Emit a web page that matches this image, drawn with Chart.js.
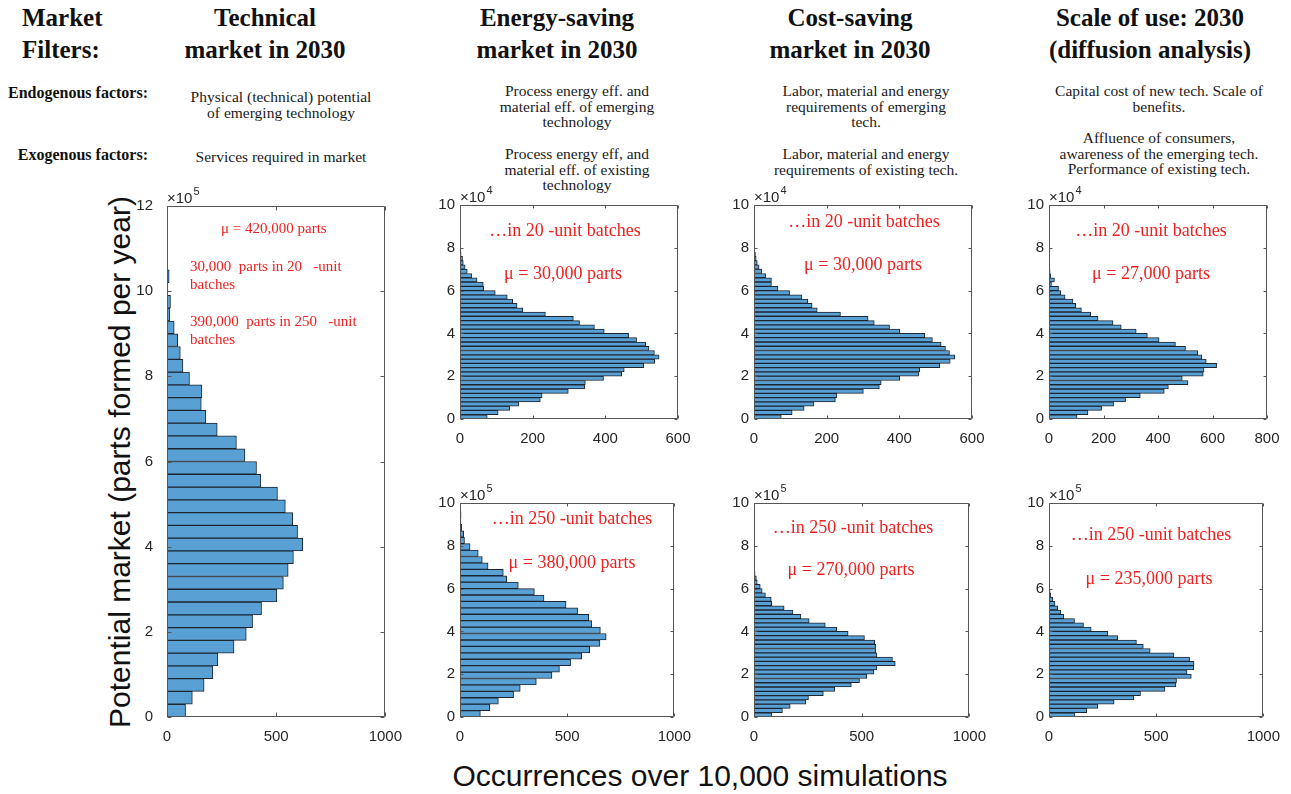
<!DOCTYPE html>
<html>
<head>
<meta charset="utf-8">
<title>Market filters</title>
<script src="https://cdn.jsdelivr.net/npm/chart.js@4.4.1/dist/chart.umd.min.js"></script>
<style>
  body { margin: 0; width: 1291px; height: 794px; position: relative; overflow: hidden; background: #fff;
         font-family: "Liberation Serif", "Times New Roman", serif; }
  .t { position: absolute; white-space: pre; }
  .hd { font-weight: bold; font-size: 25px; line-height: 32px; color: #111; text-align: center; width: 320px; }
  .lab { font-weight: bold; font-size: 16px; line-height: 18px; color: #111; text-align: right; left: 0; width: 148px; }
  .desc { font-size: 15.5px; line-height: 15.5px; color: #1a1a1a; text-align: center; width: 320px; }
  .red { color: #f02020; }
  .r1 { font-size: 15px; line-height: 17.5px; }
  .r2 { font-size: 18px; line-height: 20px; text-align: center; width: 240px; }
  .ax { font-family: "Liberation Sans", Arial, sans-serif; color: #111; text-align: center; }
  canvas { position: absolute; }
</style>
</head>
<body>

<div class="t hd" style="left:22px;top:2px;width:120px;text-align:left">Market<br>Filters:</div>
<div class="t hd" style="left:105px;top:2px">Technical<br>market in 2030</div>
<div class="t hd" style="left:397px;top:2px">Energy-saving<br>market in 2030</div>
<div class="t hd" style="left:690px;top:2px">Cost-saving<br>market in 2030</div>
<div class="t hd" style="left:990px;top:2px">Scale of use: 2030<br>(diffusion analysis)</div>

<div class="t lab" style="top:84px">Endogenous factors:</div>
<div class="t lab" style="top:146px">Exogenous factors:</div>

<div class="t desc" style="left:121px;top:89px">Physical (technical) potential<br>of emerging technology</div>
<div class="t desc" style="left:121px;top:149px">Services required in market</div>
<div class="t desc" style="left:417px;top:83px">Process energy eff. and<br>material eff. of emerging<br>technology</div>
<div class="t desc" style="left:417px;top:146px">Process energy eff, and<br>material eff. of existing<br>technology</div>
<div class="t desc" style="left:706px;top:83px">Labor, material and energy<br>requirements of emerging<br>tech.</div>
<div class="t desc" style="left:706px;top:146px">Labor, material and energy<br>requirements of existing tech.</div>
<div class="t desc" style="left:999px;top:83px">Capital cost of new tech. Scale of<br>benefits.</div>
<div class="t desc" style="left:999px;top:130px">Affluence of consumers,<br>awareness of the emerging tech.<br>Performance of existing tech.</div>

<div class="t ax" style="left:-180px;top:442px;width:600px;height:40px;line-height:40px;font-size:30px;transform:rotate(-90deg)">Potential market (parts formed per year)</div>
<div class="t ax" style="left:400px;top:758px;width:600px;line-height:36px;font-size:30px">Occurrences over 10,000 simulations</div>

<script>
// bin counts, lowest bin first
const techCounts = [85, 116, 170, 210, 233, 307, 363, 392, 433, 503, 533, 555, 579, 622, 598, 576, 542, 506,
  430, 410, 357, 318, 230, 178, 157, 160, 103, 73, 61, 49, 33, 13, 16, 4, 10, 3];
const energy20Counts = [75, 105, 137, 162, 221, 226, 298, 343, 345, 395, 445, 452, 506, 536, 548, 535, 520, 511,
  486, 464, 397, 370, 329, 312, 235, 173, 157, 145, 130, 97, 65, 64, 47, 32, 20, 14, 9, 7, 3, 1];
const cost20Counts = [75, 105, 138, 165, 224, 228, 301, 345, 350, 401, 453, 456, 511, 540, 553, 538, 527, 515,
  491, 470, 401, 373, 331, 314, 238, 174, 160, 148, 132, 98, 66, 48, 48, 32, 21, 14, 9, 6, 4, 2];
const scale20Counts = [103, 143, 193, 237, 281, 335, 423, 438, 510, 489, 566, 569, 615, 577, 561, 546, 501, 464,
  404, 361, 320, 265, 235, 180, 153, 119, 98, 88, 59, 43, 35, 9, 20, 6, 4, 2, 1, 0, 0, 3];
const energy250Counts = [95, 139, 179, 250, 281, 356, 429, 464, 516, 568, 605, 653, 682, 655, 615, 601, 550, 495,
  392, 347, 272, 218, 202, 131, 104, 85, 47, 21, 17, 8, 4, 5];
const cost250Counts = [83, 132, 168, 241, 253, 322, 375, 452, 490, 524, 557, 571, 656, 643, 571, 566, 566, 561,
  513, 437, 384, 331, 256, 218, 181, 140, 82, 80, 53, 38, 29, 15, 11, 5, 2];
const scale250Counts = [121, 176, 228, 304, 396, 427, 541, 592, 595, 664, 644, 676, 677, 656, 583, 472, 440, 408,
  321, 275, 197, 161, 119, 69, 55, 41, 28, 18, 8, 5, 3, 2];

// bin widths (parts per year)
const techBin = 30000;
const batch20Bin = 2000;
const energy250Bin = 30000;
const batch250Bin = 20000;

// tick labels
const yTicks12 = [0, 2, 4, 6, 8, 10, 12];
const yTicks10 = [0, 2, 4, 6, 8, 10];
const xTicks1000 = [0, 500, 1000];
const xTicks600 = [0, 200, 400, 600];
const xTicks800 = [0, 200, 400, 600, 800];

const sans = '"Liberation Sans", Arial, sans-serif';
const tickColor = '#262626';
const boxColor = '#555';
const barFill = '#59a1d5';
const barEdge = '#1c2530';

// MATLAB-like box, inward ticks and the x10^n label
const matlabAxes = {
  id: 'matlabAxes',
  afterDatasetsDraw(chart, args, o) {
    const {ctx, chartArea: a, scales: {x, y}} = chart;
    const l = Math.round(a.left) + 0.5, r = Math.round(a.right) - 0.5;
    const t = Math.round(a.top) + 0.5, b = Math.round(a.bottom) - 0.5;
    ctx.save();
    ctx.strokeStyle = boxColor;
    ctx.lineWidth = 1;
    ctx.beginPath();
    ctx.rect(l, t, r - l, b - t);
    x.ticks.forEach(tk => {
      const px = Math.round(x.getPixelForValue(tk.value)) + 0.5;
      ctx.moveTo(px, b); ctx.lineTo(px, b - o.tick);
      ctx.moveTo(px, t); ctx.lineTo(px, t + o.tick);
    });
    y.ticks.forEach(tk => {
      const py = Math.round(y.getPixelForValue(tk.value)) + 0.5;
      ctx.moveTo(l, py); ctx.lineTo(l + o.tick, py);
      ctx.moveTo(r, py); ctx.lineTo(r - o.tick, py);
    });
    ctx.stroke();

    ctx.fillStyle = tickColor;
    ctx.textAlign = 'left';
    ctx.textBaseline = 'alphabetic';
    ctx.font = '15px ' + sans;
    const base = a.top - 3;
    ctx.fillText('\u00d710', a.left, base);
    const w = ctx.measureText('\u00d710').width;
    ctx.font = '11px ' + sans;
    ctx.fillText(String(o.exp), a.left + w + 1, base - 8);
    ctx.restore();
  }
};

const panels = [
  {box: [167, 205, 389, 717], counts: techCounts, bin: techBin, exp: 5, yMax: 12, yTicks: yTicks12,
   xMax: 1000, xTicks: xTicks1000, ypad: 14, tick: 4},
  {box: [460, 205, 678, 419], counts: energy20Counts, bin: batch20Bin, exp: 4, yMax: 10, yTicks: yTicks10,
   xMax: 600, xTicks: xTicks600, ypad: 5, tick: 3},
  {box: [754, 205, 972, 419], counts: cost20Counts, bin: batch20Bin, exp: 4, yMax: 10, yTicks: yTicks10,
   xMax: 600, xTicks: xTicks600, ypad: 5, tick: 3},
  {box: [1049, 205, 1267, 419], counts: scale20Counts, bin: batch20Bin, exp: 4, yMax: 10, yTicks: yTicks10,
   xMax: 800, xTicks: xTicks800, ypad: 5, tick: 3},
  {box: [460, 503, 678, 717], counts: energy250Counts, bin: energy250Bin, exp: 5, yMax: 10, yTicks: yTicks10,
   xMax: 1000, xTicks: xTicks1000, ypad: 5, tick: 3},
  {box: [754, 503, 973, 717], counts: cost250Counts, bin: batch250Bin, exp: 5, yMax: 10, yTicks: yTicks10,
   xMax: 1000, xTicks: xTicks1000, ypad: 5, tick: 3},
  {box: [1049, 503, 1267, 717], counts: scale250Counts, bin: batch250Bin, exp: 5, yMax: 10, yTicks: yTicks10,
   xMax: 1000, xTicks: xTicks1000, ypad: 5, tick: 3}
];

const axisW = 40, padTop = 22, padRight = 24, axisH = 30;

panels.forEach(p => {
  const [L, T, R, B] = p.box;
  const unit = Math.pow(10, p.exp);
  const c = document.createElement('canvas');
  c.width = axisW + (R - L) + padRight;
  c.height = padTop + (B - T) + axisH;
  c.style.left = (L - axisW) + 'px';
  c.style.top = (T - padTop) + 'px';
  c.style.width = c.width + 'px';
  c.style.height = c.height + 'px';
  document.body.appendChild(c);

  new Chart(c.getContext('2d'), {
    type: 'bar',
    data: {
      datasets: [{
        data: p.counts.map((n, i) => ({x: n, y: (i + 0.5) * p.bin})),
        backgroundColor: barFill,
        borderColor: barEdge,
        borderWidth: 1,
        categoryPercentage: 1,
        barPercentage: 1
      }]
    },
    options: {
      indexAxis: 'y',
      responsive: false,
      animation: false,
      devicePixelRatio: 1,
      layout: {padding: {left: 0, top: padTop, right: padRight, bottom: 0}},
      plugins: {
        legend: {display: false},
        tooltip: {enabled: false},
        matlabAxes: {exp: p.exp, tick: p.tick}
      },
      scales: {
        x: {
          type: 'linear', min: 0, max: p.xMax,
          grid: {display: false, drawTicks: false}, border: {display: false},
          afterBuildTicks: s => { s.ticks = p.xTicks.map(v => ({value: v})); },
          afterFit: s => { s.height = axisH; },
          ticks: {padding: 11, color: tickColor, font: {family: sans, size: 15}, maxRotation: 0, autoSkip: false,
                  callback: v => String(v)}
        },
        y: {
          type: 'linear', min: 0, max: p.yMax * unit, offset: false,
          grid: {display: false, drawTicks: false}, border: {display: false},
          afterBuildTicks: s => { s.ticks = p.yTicks.map(v => ({value: v * unit})); },
          afterFit: s => { s.width = axisW; },
          ticks: {padding: p.ypad, color: tickColor, font: {family: sans, size: 15}, autoSkip: false,
                  callback: v => String(Math.round(v / unit))}
        }
      }
    },
    plugins: [matlabAxes]
  });
});
</script>

<div class="t red r1" style="left:221px;top:220px">μ = 420,000 parts</div>
<div class="t red r1" style="left:190px;top:258px">30,000  parts in 20   -unit
batches</div>
<div class="t red r1" style="left:190px;top:313px">390,000  parts in 250   -unit
batches</div>

<div class="t red r2" style="left:445px;top:220px">…in 20 -unit batches</div>
<div class="t red r2" style="left:443px;top:263px">μ = 30,000 parts</div>
<div class="t red r2" style="left:744px;top:211px">…in 20 -unit batches</div>
<div class="t red r2" style="left:743px;top:254px">μ = 30,000 parts</div>
<div class="t red r2" style="left:1031px;top:220px">…in 20 -unit batches</div>
<div class="t red r2" style="left:1031px;top:263px">μ = 27,000 parts</div>
<div class="t red r2" style="left:452px;top:508px">…in 250 -unit batches</div>
<div class="t red r2" style="left:452px;top:552px">μ = 380,000 parts</div>
<div class="t red r2" style="left:733px;top:517px">…in 250 -unit batches</div>
<div class="t red r2" style="left:731px;top:559px">μ = 270,000 parts</div>
<div class="t red r2" style="left:1031px;top:524px">…in 250 -unit batches</div>
<div class="t red r2" style="left:1029px;top:568px">μ = 235,000 parts</div>

</body>
</html>
